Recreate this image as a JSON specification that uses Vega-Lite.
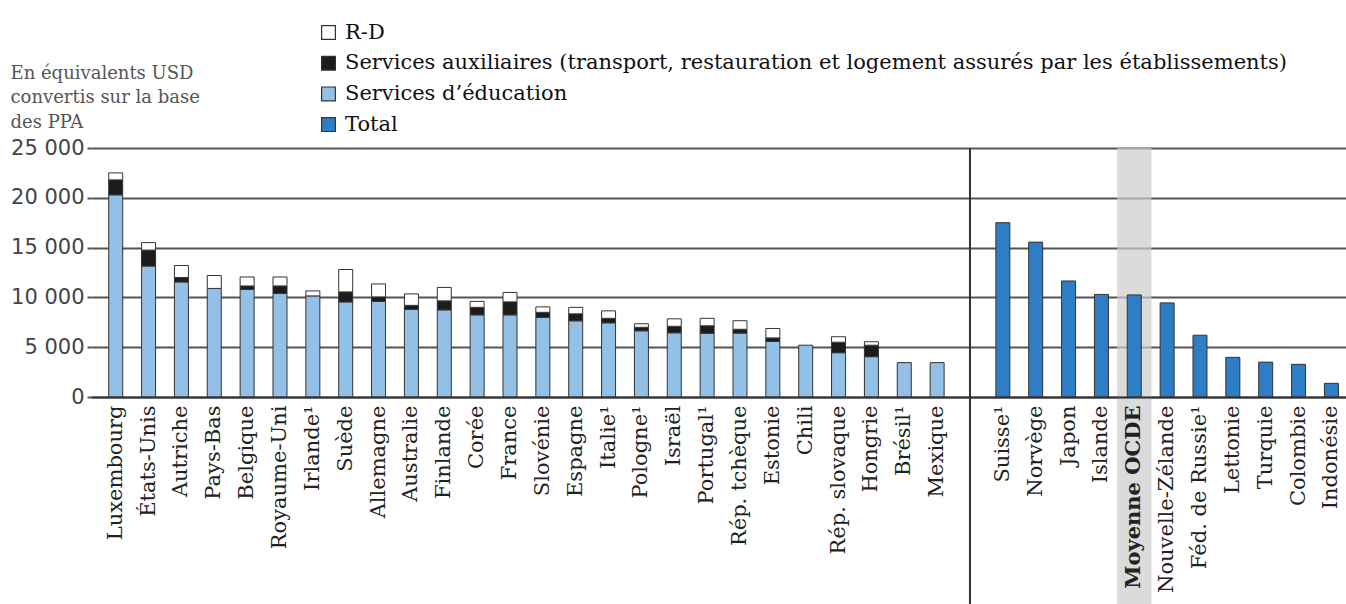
{
  "$schema": "https://vega.github.io/schema/vega-lite/v6.json",
  "width": 1255,
  "height": 249,
  "autosize": "none",
  "padding": {"left": 91, "top": 148, "right": 0, "bottom": 207},
  "background": "white",
  "datasets": {
    "d": [
      {"country": "Luxembourg", "component": "Services d’éducation", "value": 20300},
      {"country": "Luxembourg", "component": "Services auxiliaires (transport, restauration et logement assurés par les établissements)", "value": 1500},
      {"country": "Luxembourg", "component": "R-D", "value": 700},
      {"country": "États-Unis", "component": "Services d’éducation", "value": 13150},
      {"country": "États-Unis", "component": "Services auxiliaires (transport, restauration et logement assurés par les établissements)", "value": 1600},
      {"country": "États-Unis", "component": "R-D", "value": 750},
      {"country": "Autriche", "component": "Services d’éducation", "value": 11550},
      {"country": "Autriche", "component": "Services auxiliaires (transport, restauration et logement assurés par les établissements)", "value": 450},
      {"country": "Autriche", "component": "R-D", "value": 1200},
      {"country": "Pays-Bas", "component": "Services d’éducation", "value": 10900},
      {"country": "Pays-Bas", "component": "R-D", "value": 1300},
      {"country": "Belgique", "component": "Services d’éducation", "value": 10800},
      {"country": "Belgique", "component": "Services auxiliaires (transport, restauration et logement assurés par les établissements)", "value": 350},
      {"country": "Belgique", "component": "R-D", "value": 900},
      {"country": "Royaume-Uni", "component": "Services d’éducation", "value": 10400},
      {"country": "Royaume-Uni", "component": "Services auxiliaires (transport, restauration et logement assurés par les établissements)", "value": 750},
      {"country": "Royaume-Uni", "component": "R-D", "value": 900},
      {"country": "Irlande¹", "component": "Services d’éducation", "value": 10150},
      {"country": "Irlande¹", "component": "R-D", "value": 500},
      {"country": "Suède", "component": "Services d’éducation", "value": 9550},
      {"country": "Suède", "component": "Services auxiliaires (transport, restauration et logement assurés par les établissements)", "value": 1000},
      {"country": "Suède", "component": "R-D", "value": 2250},
      {"country": "Allemagne", "component": "Services d’éducation", "value": 9600},
      {"country": "Allemagne", "component": "Services auxiliaires (transport, restauration et logement assurés par les établissements)", "value": 450},
      {"country": "Allemagne", "component": "R-D", "value": 1300},
      {"country": "Australie", "component": "Services d’éducation", "value": 8800},
      {"country": "Australie", "component": "Services auxiliaires (transport, restauration et logement assurés par les établissements)", "value": 400},
      {"country": "Australie", "component": "R-D", "value": 1150},
      {"country": "Finlande", "component": "Services d’éducation", "value": 8750},
      {"country": "Finlande", "component": "Services auxiliaires (transport, restauration et logement assurés par les établissements)", "value": 900},
      {"country": "Finlande", "component": "R-D", "value": 1350},
      {"country": "Corée", "component": "Services d’éducation", "value": 8250},
      {"country": "Corée", "component": "Services auxiliaires (transport, restauration et logement assurés par les établissements)", "value": 750},
      {"country": "Corée", "component": "R-D", "value": 600},
      {"country": "France", "component": "Services d’éducation", "value": 8250},
      {"country": "France", "component": "Services auxiliaires (transport, restauration et logement assurés par les établissements)", "value": 1300},
      {"country": "France", "component": "R-D", "value": 950},
      {"country": "Slovénie", "component": "Services d’éducation", "value": 8000},
      {"country": "Slovénie", "component": "Services auxiliaires (transport, restauration et logement assurés par les établissements)", "value": 500},
      {"country": "Slovénie", "component": "R-D", "value": 550},
      {"country": "Espagne", "component": "Services d’éducation", "value": 7650},
      {"country": "Espagne", "component": "Services auxiliaires (transport, restauration et logement assurés par les établissements)", "value": 700},
      {"country": "Espagne", "component": "R-D", "value": 650},
      {"country": "Italie¹", "component": "Services d’éducation", "value": 7450},
      {"country": "Italie¹", "component": "Services auxiliaires (transport, restauration et logement assurés par les établissements)", "value": 450},
      {"country": "Italie¹", "component": "R-D", "value": 750},
      {"country": "Pologne¹", "component": "Services d’éducation", "value": 6650},
      {"country": "Pologne¹", "component": "Services auxiliaires (transport, restauration et logement assurés par les établissements)", "value": 350},
      {"country": "Pologne¹", "component": "R-D", "value": 350},
      {"country": "Israël", "component": "Services d’éducation", "value": 6450},
      {"country": "Israël", "component": "Services auxiliaires (transport, restauration et logement assurés par les établissements)", "value": 650},
      {"country": "Israël", "component": "R-D", "value": 750},
      {"country": "Portugal¹", "component": "Services d’éducation", "value": 6400},
      {"country": "Portugal¹", "component": "Services auxiliaires (transport, restauration et logement assurés par les établissements)", "value": 750},
      {"country": "Portugal¹", "component": "R-D", "value": 750},
      {"country": "Rép. tchèque", "component": "Services d’éducation", "value": 6420},
      {"country": "Rép. tchèque", "component": "Services auxiliaires (transport, restauration et logement assurés par les établissements)", "value": 380},
      {"country": "Rép. tchèque", "component": "R-D", "value": 860},
      {"country": "Estonie", "component": "Services d’éducation", "value": 5580},
      {"country": "Estonie", "component": "Services auxiliaires (transport, restauration et logement assurés par les établissements)", "value": 350},
      {"country": "Estonie", "component": "R-D", "value": 950},
      {"country": "Chili", "component": "Services d’éducation", "value": 5200},
      {"country": "Rép. slovaque", "component": "Services d’éducation", "value": 4450},
      {"country": "Rép. slovaque", "component": "Services auxiliaires (transport, restauration et logement assurés par les établissements)", "value": 1050},
      {"country": "Rép. slovaque", "component": "R-D", "value": 550},
      {"country": "Hongrie", "component": "Services d’éducation", "value": 4050},
      {"country": "Hongrie", "component": "Services auxiliaires (transport, restauration et logement assurés par les établissements)", "value": 1150},
      {"country": "Hongrie", "component": "R-D", "value": 350},
      {"country": "Brésil¹", "component": "Services d’éducation", "value": 3450},
      {"country": "Mexique", "component": "Services d’éducation", "value": 3450},
      {"country": "Suisse¹", "component": "Total", "value": 17500},
      {"country": "Norvège", "component": "Total", "value": 15550},
      {"country": "Japon", "component": "Total", "value": 11650},
      {"country": "Islande", "component": "Total", "value": 10300},
      {"country": "Moyenne OCDE", "component": "Total", "value": 10250},
      {"country": "Nouvelle-Zélande", "component": "Total", "value": 9450},
      {"country": "Féd. de Russie¹", "component": "Total", "value": 6200},
      {"country": "Lettonie", "component": "Total", "value": 3980},
      {"country": "Turquie", "component": "Total", "value": 3500},
      {"country": "Colombie", "component": "Total", "value": 3280},
      {"country": "Indonésie", "component": "Total", "value": 1370}
    ]
  },
  "layer": [
    {
      "data": {"name": "d"},
      "transform": [{"filter": "datum.country === 'Moyenne OCDE'"}],
      "mark": {"type": "bar", "color": "#cccccc", "opacity": 0.7, "width": {"band": 2.45}},
      "encoding": {
        "x": {"field": "country", "type": "nominal"},
        "y": {"datum": 25000, "type": "quantitative", "scale": {"domain": [0, 25000], "nice": false}},
        "y2": {"datum": -21500}
      }
    },
    {
      "data": {"name": "d"},
      "mark": {"type": "bar", "stroke": "#333333", "strokeWidth": 1},
      "encoding": {
        "x": {
          "field": "country",
          "type": "nominal",
          "sort": null,
          "scale": {
            "domain": ["Luxembourg", "États-Unis", "Autriche", "Pays-Bas", "Belgique", "Royaume-Uni", "Irlande¹", "Suède", "Allemagne", "Australie", "Finlande", "Corée", "France", "Slovénie", "Espagne", "Italie¹", "Pologne¹", "Israël", "Portugal¹", "Rép. tchèque", "Estonie", "Chili", "Rép. slovaque", "Hongrie", "Brésil¹", "Mexique", " ", "Suisse¹", "Norvège", "Japon", "Islande", "Moyenne OCDE", "Nouvelle-Zélande", "Féd. de Russie¹", "Lettonie", "Turquie", "Colombie", "Indonésie"],
            "paddingInner": 0.574,
            "paddingOuter": 0.385,
            "align": 0.7
          },
          "axis": {
            "title": null,
            "labelAngle": -90,
            "labelFont": "DejaVu Serif",
            "labelFontSize": 21,
            "labelColor": "#222222",
            "labelFontWeight": {"condition": {"test": "datum.value === 'Moyenne OCDE'", "value": "bold"}, "value": "normal"},
            "labelPadding": 8,
            "labelLimit": 300,
            "ticks": false,
            "domain": true,
            "domainColor": "#333333",
            "domainWidth": 2,
            "zindex": 1
          }
        },
        "y": {
          "field": "value",
          "type": "quantitative",
          "stack": "zero",
          "scale": {"domain": [0, 25000], "nice": false},
          "axis": {
            "title": ["En équivalents USD", "convertis sur la base", "des PPA"],
            "titleAngle": 0,
            "titleAlign": "left",
            "titleBaseline": "top",
            "titleX": -81,
            "titleY": -84,
            "titleFont": "DejaVu Serif",
            "titleFontSize": 18,
            "titleFontWeight": "normal",
            "titleColor": "#555555",
            "titleLineHeight": 24.5,
            "values": [0, 5000, 10000, 15000, 20000, 25000],
            "labelExpr": "replace(format(datum.value, ','), ',', ' ')",
            "labelFont": "DejaVu Sans",
            "labelFontSize": 21,
            "labelColor": "#444444",
            "labelPadding": 3,
            "grid": true,
            "gridColor": "#555555",
            "gridWidth": 2,
            "domain": false,
            "ticks": true,
            "tickColor": "#555555",
            "tickWidth": 2,
            "tickSize": 4
          }
        },
        "color": {
          "field": "component",
          "type": "nominal",
          "scale": {
            "domain": ["R-D", "Services auxiliaires (transport, restauration et logement assurés par les établissements)", "Services d’éducation", "Total"],
            "range": ["#ffffff", "#1c1c1c", "#93c0e6", "#2f7dc5"]
          },
          "legend": {
            "title": null,
            "orient": "none",
            "legendX": 227,
            "legendY": -126,
            "padding": 0,
            "symbolType": "square",
            "symbolSize": 190,
            "symbolStrokeColor": "#333333",
            "symbolStrokeWidth": 1.2,
            "symbolOpacity": 1,
            "labelFont": "DejaVu Serif",
            "labelFontSize": 21,
            "labelColor": "#111111",
            "labelLimit": 0,
            "labelOffset": 6,
            "rowPadding": 8.7
          }
        },
        "order": {"field": "component", "sort": "descending"}
      }
    },
    {
      "data": {"values": [{}]},
      "mark": {"type": "rule", "color": "#333333", "strokeWidth": 2},
      "encoding": {
        "x": {"datum": " ", "type": "nominal", "bandPosition": 0.5},
        "y": {"datum": 25000, "type": "quantitative"},
        "y2": {"datum": -21500}
      }
    }
  ],
  "config": {
    "view": {"stroke": null}
  }
}
